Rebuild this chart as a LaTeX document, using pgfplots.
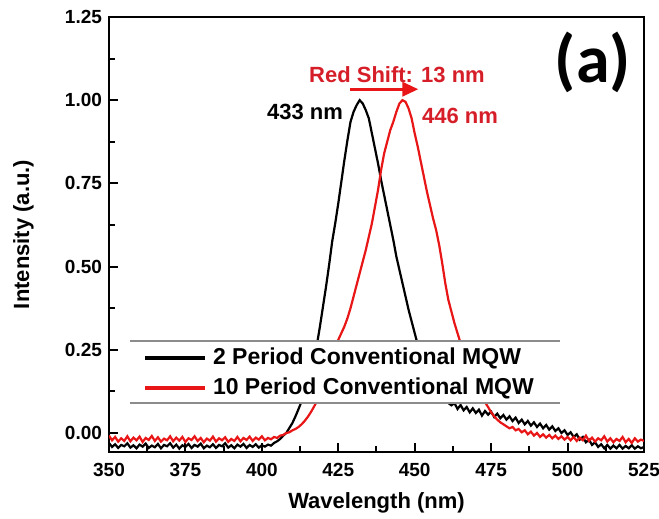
\documentclass[border=0pt]{standalone}
\usepackage{pgfplots}
\pgfplotsset{compat=1.18}
\usepackage{fontspec}
\setmainfont{Liberation Sans}
\newfontfamily\calib{Carlito}
\usetikzlibrary{arrows.meta}
\definecolor{lred}{RGB}{232,22,22}
\definecolor{tred}{RGB}{214,30,40}
\definecolor{lgray}{RGB}{140,140,140}
\begin{document}
\begin{tikzpicture}
\begin{axis}[name=ax,
  scale only axis, width=267.5pt, height=217.5pt,
  xmin=350, xmax=525, ymin=-0.0572, ymax=1.25,
  xtick={350,375,...,525}, ytick={0,0.25,...,1.25},
  minor x tick num=1, minor y tick num=1,
  tick pos=left, tick align=inside,
  major tick length=4.5pt, minor tick length=3pt,
  every tick/.style={black, line width=1pt},
  axis line style={line width=1pt},
  /pgf/number format/assume math mode=true,
  yticklabel style={/pgf/number format/.cd, fixed, fixed zerofill, precision=2},
  xticklabel style={/tikz/yshift=-2pt, /pgf/number format/.cd, fixed, precision=0},
  tick label style={font=\fontsize{9.5}{11}\selectfont\bfseries},
  label style={font=\fontsize{11}{13}\selectfont\bfseries},
  xlabel={Wavelength (nm)}, ylabel={Intensity (a.u.)},
  xlabel style={at={(axis description cs:0.5,-0.117)}, anchor=center},
  ylabel style={at={(axis description cs:-0.16,0.5)}, anchor=center},
  legend image code/.code={\draw[#1, line width=1.8pt] (0pt,0pt) -- (30pt,0pt);},
  legend style={at={(rel axis cs:0.0636,0.1816)}, anchor=west, draw=none, fill=none,
    inner sep=0pt, column sep=3pt, row sep=4pt,
    nodes={inner sep=0pt, text height=8.5pt, text depth=2.5pt},
    font=\fontsize{11.5}{13}\selectfont\bfseries},
  legend cell align=left,
]
\addplot[black, line width=1.1pt] coordinates {
(350,-0.030)(351,-0.042)(352,-0.034)(353,-0.045)(354,-0.036)(355,-0.040)(356,-0.031)(357,-0.044)(358,-0.037)(359,-0.046)
(360,-0.035)(361,-0.041)(362,-0.032)(363,-0.045)(364,-0.038)(365,-0.043)(366,-0.033)(367,-0.046)(368,-0.036)(369,-0.040)
(370,-0.031)(371,-0.044)(372,-0.035)(373,-0.047)(374,-0.037)(375,-0.042)(376,-0.033)(377,-0.045)(378,-0.036)(379,-0.041)
(380,-0.032)(381,-0.046)(382,-0.038)(383,-0.043)(384,-0.034)(385,-0.045)(386,-0.036)(387,-0.040)(388,-0.031)(389,-0.044)
(390,-0.037)(391,-0.046)(392,-0.035)(393,-0.041)(394,-0.033)(395,-0.045)(396,-0.036)(397,-0.042)(398,-0.034)(399,-0.044)
(400,-0.037)(401,-0.041)(402,-0.035)(403,-0.038)(404,-0.030)(405,-0.025)(406,-0.018)(407,-0.008)(408,0.000)(409,0.015)
(410,0.030)(411,0.050)(412,0.072)(413,0.095)(414,0.120)(415,0.150)(416,0.185)(417,0.220)(418,0.265)(419,0.320)
(420,0.380)(421,0.440)(422,0.505)(423,0.575)(424,0.630)(425,0.690)(426,0.755)(427,0.820)(428,0.880)(429,0.935)
(430,0.965)(431,0.985)(432,1.000)(433,0.990)(434,0.970)(435,0.945)(436,0.900)(437,0.855)(438,0.810)(439,0.760)
(440,0.715)(441,0.670)(442,0.625)(443,0.580)(444,0.530)(445,0.490)(446,0.450)(447,0.410)(448,0.370)(449,0.335)
(450,0.300)(451,0.265)(452,0.235)(453,0.205)(454,0.180)(455,0.155)(456,0.135)(457,0.120)(458,0.108)(459,0.100)
(460,0.094)(461,0.090)(462,0.083)(463,0.090)(464,0.072)(465,0.084)(466,0.068)(467,0.078)(468,0.062)(469,0.074)
(470,0.060)(471,0.070)(472,0.052)(473,0.066)(474,0.055)(475,0.064)(476,0.048)(477,0.058)(478,0.044)(479,0.054)
(480,0.040)(481,0.050)(482,0.036)(483,0.046)(484,0.030)(485,0.040)(486,0.026)(487,0.036)(488,0.022)(489,0.032)
(490,0.018)(491,0.028)(492,0.014)(493,0.024)(494,0.010)(495,0.020)(496,0.006)(497,0.014)(498,0.000)(499,0.008)
(500,-0.006)(501,0.002)(502,-0.012)(503,-0.004)(504,-0.020)(505,-0.012)(506,-0.028)(507,-0.020)(508,-0.036)(509,-0.028)
(510,-0.042)(511,-0.034)(512,-0.046)(513,-0.036)(514,-0.047)(515,-0.038)(516,-0.046)(517,-0.036)(518,-0.047)(519,-0.039)
(520,-0.046)(521,-0.037)(522,-0.047)(523,-0.040)(524,-0.046)(525,-0.042)
};
\addlegendentry{2 Period Conventional MQW}
\addplot[lred, line width=1.1pt] coordinates {
(350,-0.008)(351,-0.022)(352,-0.012)(353,-0.026)(354,-0.016)(355,-0.024)(356,-0.010)(357,-0.025)(358,-0.014)(359,-0.022)
(360,-0.011)(361,-0.027)(362,-0.015)(363,-0.021)(364,-0.009)(365,-0.024)(366,-0.013)(367,-0.026)(368,-0.017)(369,-0.022)
(370,-0.010)(371,-0.025)(372,-0.014)(373,-0.023)(374,-0.012)(375,-0.027)(376,-0.016)(377,-0.021)(378,-0.010)(379,-0.024)
(380,-0.015)(381,-0.028)(382,-0.017)(383,-0.023)(384,-0.011)(385,-0.026)(386,-0.016)(387,-0.022)(388,-0.013)(389,-0.027)
(390,-0.018)(391,-0.024)(392,-0.012)(393,-0.025)(394,-0.015)(395,-0.021)(396,-0.011)(397,-0.024)(398,-0.014)(399,-0.020)
(400,-0.010)(401,-0.022)(402,-0.015)(403,-0.019)(404,-0.012)(405,-0.015)(406,-0.008)(407,-0.006)(408,0.000)(409,0.002)
(410,0.008)(411,0.012)(412,0.018)(413,0.026)(414,0.036)(415,0.048)(416,0.062)(417,0.078)(418,0.095)(419,0.125)
(420,0.160)(421,0.195)(422,0.225)(423,0.250)(424,0.265)(425,0.280)(426,0.300)(427,0.320)(428,0.345)(429,0.375)
(430,0.410)(431,0.445)(432,0.480)(433,0.515)(434,0.550)(435,0.590)(436,0.630)(437,0.680)(438,0.730)(439,0.790)
(440,0.840)(441,0.875)(442,0.910)(443,0.935)(444,0.965)(445,0.990)(446,1.000)(447,0.995)(448,0.975)(449,0.945)
(450,0.900)(451,0.860)(452,0.815)(453,0.770)(454,0.725)(455,0.685)(456,0.645)(457,0.610)(458,0.565)(459,0.510)
(460,0.450)(461,0.400)(462,0.365)(463,0.330)(464,0.300)(465,0.270)(466,0.240)(467,0.215)(468,0.190)(469,0.165)
(470,0.140)(471,0.120)(472,0.105)(473,0.092)(474,0.078)(475,0.062)(476,0.050)(477,0.040)(478,0.032)(479,0.026)
(480,0.020)(481,0.014)(482,0.018)(483,0.008)(484,0.012)(485,0.002)(486,0.008)(487,-0.004)(488,0.004)(489,-0.008)
(490,0.000)(491,-0.012)(492,-0.004)(493,-0.014)(494,-0.006)(495,-0.016)(496,-0.008)(497,-0.018)(498,-0.010)(499,-0.020)
(500,-0.012)(501,-0.022)(502,-0.012)(503,-0.024)(504,-0.014)(505,-0.022)(506,-0.008)(507,-0.024)(508,-0.014)(509,-0.026)
(510,-0.016)(511,-0.022)(512,-0.010)(513,-0.026)(514,-0.016)(515,-0.028)(516,-0.018)(517,-0.024)(518,-0.012)(519,-0.028)
(520,-0.018)(521,-0.030)(522,-0.016)(523,-0.026)(524,-0.020)(525,-0.024)
};
\addlegendentry{10 Period Conventional MQW}
\fill[white] (rel axis cs:0.039,0.113) rectangle (rel axis cs:0.843,0.255);
\draw[lgray, line width=0.8pt] (rel axis cs:0.039,0.113) -- (rel axis cs:0.843,0.113);
\draw[lgray, line width=0.8pt] (rel axis cs:0.039,0.255) -- (rel axis cs:0.843,0.255);
\node[font=\fontsize{11}{13}\selectfont\bfseries, text=black] at (axis cs:414.1,0.964) {433 nm};
\node[font=\fontsize{11}{13}\selectfont\bfseries, text=tred] at (axis cs:464.8,0.952) {446 nm};
\node[font=\fontsize{11}{13}\selectfont\bfseries, text=tred] at (axis cs:444.2,1.078) {Red Shift: 13 nm};
\draw[lred, line width=1.6pt, -{Triangle[length=8pt,width=7pt]}] (axis cs:428.8,1.033) -- (axis cs:451.2,1.033);
\node[font=\calib\fontsize{34}{36}\selectfont\bfseries, text=black] at (axis cs:508.3,1.114) {(a)};
\end{axis}
\pgfresetboundingbox
\path ([shift={(-54.5pt,-33.5pt)}]ax.south west) rectangle ([shift={(7.5pt,8.5pt)}]ax.north east);
\end{tikzpicture}
\end{document}
